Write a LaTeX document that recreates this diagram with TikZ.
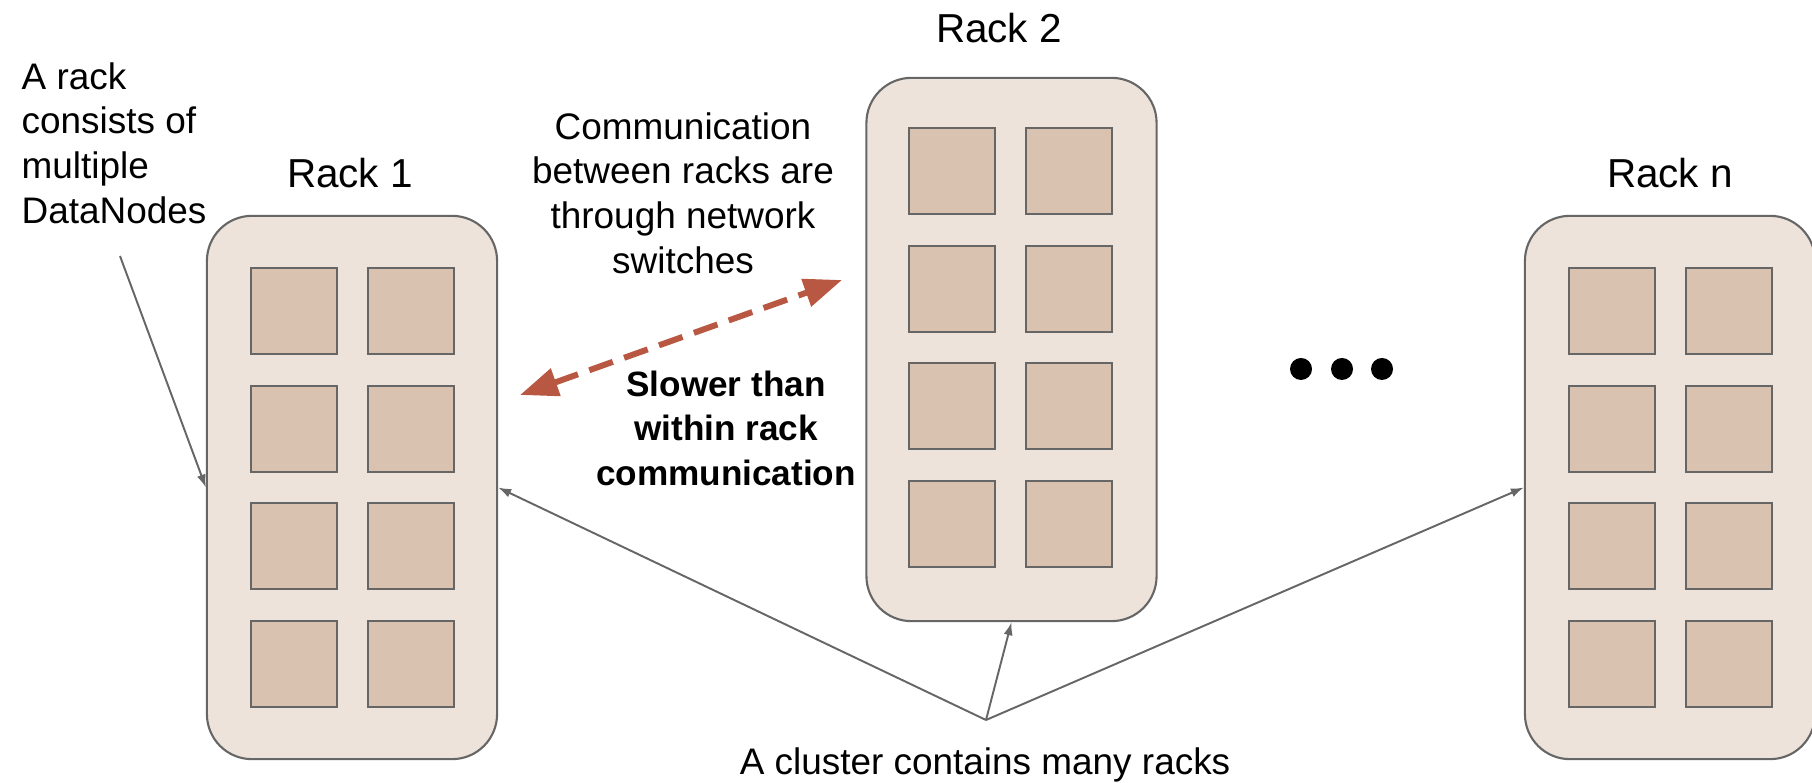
\documentclass[tikz,border=0pt]{standalone}
\usepackage{fontspec}
\setmainfont{Liberation Sans}
\usetikzlibrary{arrows.meta}
\definecolor{rackfill}{HTML}{EDE3DA}
\definecolor{cellfill}{HTML}{D9C3B0}
\definecolor{edgegray}{HTML}{666666}
\definecolor{linkred}{HTML}{B85742}

\begin{document}
\begin{tikzpicture}[x=0.01cm,y=-0.01cm,
        rack/.style={draw=edgegray,fill=rackfill,line width=0.6pt,rounded corners=0.45cm,
            minimum width=2.9cm,minimum height=5.43cm,inner sep=0},
        cell/.style={draw=edgegray,fill=cellfill,line width=0.6pt,minimum size=0.86cm,inner sep=0},
        rackname/.style={font=\fontsize{11.5}{14}\selectfont,inner sep=0},
        note/.style={font=\fontsize{10.5}{12.66}\selectfont,inner sep=0},
        boldnote/.style={font=\fontsize{10}{12.66}\selectfont\bfseries,inner sep=0},
        pointer/.style={draw=edgegray,line width=0.55pt,-{Latex[length=0.13cm,width=0.09cm]}},
        link/.style={draw=linkred,line width=1.7pt,dash pattern=on 0.25cm off 0.12cm,
            {Triangle[length=0.38cm,width=0.28cm]}-{Triangle[length=0.38cm,width=0.28cm]}}]
            \clip (0,0) rectangle (1812,783);

            \node[rack] (rack1) at (352,487.5) {};
            \node[rack] (rack2) at (1011.5,349.5) {};
            \node[rack] (rackn) at (1670,487.5) {};

            \foreach \r/\cx/\cy in {1/294/311, 2/952/171, n/1612/311}
                \foreach \i in {0,1,2,3} {
                    \node[cell] (cell\r-\i-a) at (\cx,\cy+117.7*\i) {};
                    \node[cell] (cell\r-\i-b) at (\cx+117,\cy+117.7*\i) {};
                }

            \node[rackname,anchor=base] (rack1name) at (350,188) {Rack 1};
            \node[rackname,anchor=base] (rack2name) at (999,43) {Rack 2};
            \node[rackname,anchor=base] (racknname) at (1670,188) {Rack n};

            \node[note,align=left,anchor=north west] (racknote) at (21,62) {A rack\\consists of\\multiple\\DataNodes};
            \node[note,align=center,anchor=north] (switchnote) at (683,112) {Communication\\between racks are\\through network\\switches};
            \node[boldnote,align=center,anchor=north] (slownote) at (726,370) {Slower than\\within rack\\communication};
            \node[note,anchor=base] (clusternote) at (985,775) {A cluster contains many racks};

            \coordinate (racktail) at (120,256);
            \coordinate (clustertail) at (986,720);
            \coordinate (linkleft) at (520,395);
            \coordinate (linkright) at (842,280);

            \draw[pointer] (racktail) -- (rack1.west);
            \draw[pointer] (clustertail) -- (rack1.east);
            \draw[pointer] (clustertail) -- (rack2.south);
            \draw[pointer] (clustertail) -- (rackn.west);
            \draw[link] (linkleft) -- (linkright);

            \fill (1301,369) circle[radius=0.11cm];
            \fill (1342,369) circle[radius=0.11cm];
            \fill (1382,369) circle[radius=0.11cm];
        \end{tikzpicture}
\end{document}
